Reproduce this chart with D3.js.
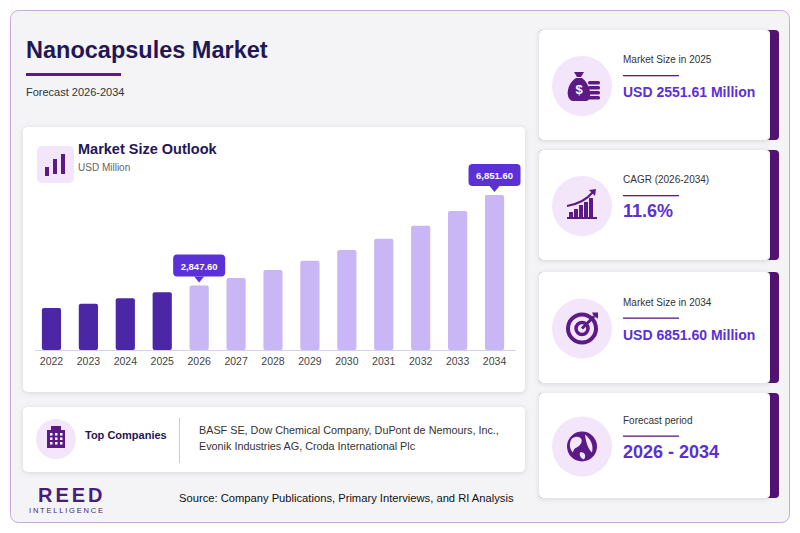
<!DOCTYPE html>
<html>
<head>
<meta charset="utf-8">
<script src="https://d3js.org/d3.v7.min.js"></script>
<style>
body{margin:0;background:#fff;font-family:"Liberation Sans",Arial,sans-serif;}
</style>
</head>
<body>
<script>
// chart data
var years = ["2022","2023","2024","2025","2026","2027","2028","2029","2030","2031","2032","2033","2034"];
var values = [1859, 2047, 2285, 2551.61, 2847.6, 3183, 3537, 3947, 4420, 4920, 5495, 6144, 6851.6];
var callouts = ["2026","2034"];
var cards = [
  {label:"Market Size in 2025", value:"USD 2551.61 Million", icon:"bag"},
  {label:"CAGR (2026-2034)", value:"11.6%", icon:"growth"},
  {label:"Market Size in 2034", value:"USD 6851.60 Million", icon:"target"},
  {label:"Forecast period", value:"2026 - 2034", icon:"globe"}
];

var W = 800, H = 533;
var svg = d3.select("body").append("svg").attr("width", W).attr("height", H);
var defs = svg.append("defs");
var f = defs.append("filter").attr("id","sh").attr("x","-10%").attr("y","-10%").attr("width","120%").attr("height","130%");
f.append("feDropShadow").attr("dx",0).attr("dy",1).attr("stdDeviation",2.5).attr("flood-color","#000").attr("flood-opacity",0.13);

svg.append("rect").attr("width",W).attr("height",H).attr("fill","#fff");
svg.append("rect").attr("x",10.5).attr("y",10.5).attr("width",779).attr("height",512).attr("rx",8)
  .attr("fill","#f4f4f6").attr("stroke","#c9a9dc");

// title
svg.append("text").attr("x",26).attr("y",58).text("Nanocapsules Market")
  .attr("font-size",23.5).attr("font-weight","bold").attr("fill","#231656");
svg.append("rect").attr("x",26).attr("y",73).attr("width",95).attr("height",3).attr("fill","#5b1a86");
svg.append("text").attr("x",26).attr("y",96).text("Forecast 2026-2034").attr("font-size",11).attr("fill","#333");

// chart card
svg.append("rect").attr("x",23).attr("y",127).attr("width",502).attr("height",265).attr("rx",5)
  .attr("fill","#fff").attr("filter","url(#sh)");
svg.append("rect").attr("x",37).attr("y",146).attr("width",37).attr("height",37).attr("rx",5).attr("fill","#f3e6fb");
[[45,167,3,9],[53,159,3,15],[61,154,3,20]].forEach(function(b){
  svg.append("rect").attr("x",b[0]).attr("y",b[1]).attr("width",b[2]+1).attr("height",b[3]).attr("fill","#5b1a86");
});
svg.append("text").attr("x",78).attr("y",154).text("Market Size Outlook").attr("font-size",14.5).attr("font-weight","bold").attr("fill","#231656");
svg.append("text").attr("x",78).attr("y",171).text("USD Million").attr("font-size",10).attr("fill","#666");

var x = d3.scaleBand().domain(years).range([33,513]).paddingInner(0.48).paddingOuter(0.24);
var y = d3.scaleLinear().domain([0, 6851.6]).range([350, 195]);

svg.append("line").attr("x1",35).attr("x2",516).attr("y1",350.5).attr("y2",350.5).attr("stroke","#d9cdf5");
svg.append("g").selectAll("rect").data(years).join("rect")
  .attr("x", function(d){return x(d);}).attr("width", x.bandwidth())
  .attr("y", function(d,i){return y(values[i]);})
  .attr("height", function(d,i){return 350 - y(values[i]);})
  .attr("rx",2)
  .attr("fill", function(d){return +d <= 2025 ? "#4b27a6" : "#c8b6f5";});

var ax = svg.append("g").attr("transform","translate(0,351)")
  .call(d3.axisBottom(x).tickSize(0).tickPadding(7));
ax.select(".domain").remove();
ax.selectAll("text").attr("font-size",10.5).attr("fill","#444").attr("font-family","Liberation Sans, Arial, sans-serif");

callouts.forEach(function(yr){
  var i = years.indexOf(yr), cx = x(yr) + x.bandwidth()/2, top = y(values[i]);
  var label = d3.format(",.2f")(values[i]);
  var bw = 52, bh = 22, by = top - 9 - bh;
  svg.append("rect").attr("x",cx-bw/2).attr("y",by).attr("width",bw).attr("height",bh).attr("rx",4).attr("fill","#5b30d6");
  svg.append("path").attr("d","M"+(cx-5)+","+(by+bh)+"L"+cx+","+(by+bh+6)+"L"+(cx+5)+","+(by+bh)+"Z").attr("fill","#5b30d6");
  svg.append("text").attr("x",cx).attr("y",by+15).attr("text-anchor","middle").text(label)
    .attr("font-size",9.5).attr("font-weight","bold").attr("fill","#fff");
});

// top companies
svg.append("rect").attr("x",23).attr("y",407).attr("width",502).attr("height",65).attr("rx",5)
  .attr("fill","#fff").attr("filter","url(#sh)");
svg.append("circle").attr("cx",56).attr("cy",439).attr("r",20).attr("fill","#f3e6fb");
var bld = svg.append("g").attr("fill","#5b1a86");
bld.append("rect").attr("x",47).attr("y",430).attr("width",18).attr("height",18);
bld.append("rect").attr("x",51).attr("y",426).attr("width",10).attr("height",4);
for (var r=0;r<3;r++) for (var c=0;c<3;c++)
  svg.append("rect").attr("x",50+c*5).attr("y",433+r*4.5).attr("width",2.5).attr("height",2.5).attr("fill","#fff");
svg.append("text").attr("x",85).attr("y",439).text("Top Companies").attr("font-size",11).attr("font-weight","bold").attr("fill","#231656");
svg.append("line").attr("x1",179.5).attr("x2",179.5).attr("y1",418).attr("y2",463).attr("stroke","#ccc");
svg.append("text").attr("x",199).attr("y",434).text("BASF SE, Dow Chemical Company, DuPont de Nemours, Inc.,").attr("font-size",10.8).attr("fill","#333");
svg.append("text").attr("x",199).attr("y",450).text("Evonik Industries AG, Croda International Plc").attr("font-size",10.8).attr("fill","#333");

// logo + source
svg.append("text").attr("x",38).attr("y",502).text("REED").attr("font-size",20).attr("font-weight","bold")
  .attr("letter-spacing",3).attr("fill","#4a1d78");
svg.append("text").attr("x",29).attr("y",513).text("INTELLIGENCE").attr("font-size",7.5)
  .attr("letter-spacing",1.8).attr("fill","#4a1d78");
svg.append("text").attr("x",179).attr("y",502).text("Source: Company Publications, Primary Interviews, and RI Analysis")
  .attr("font-size",11.2).attr("fill","#111");

// right cards
var cardY = [30, 150, 272, 393], cardH = [110, 110, 111, 105];
cards.forEach(function(cd, i){
  var g = svg.append("g").attr("transform","translate(539,"+cardY[i]+")");
  g.append("rect").attr("x",0).attr("y",0).attr("width",240).attr("height",cardH[i]).attr("rx",4).attr("fill","#521275");
  g.append("rect").attr("x",0).attr("y",0).attr("width",231).attr("height",cardH[i]).attr("rx",4).attr("fill","#fff").attr("filter","url(#sh)");
  var cy = cardH[i]/2 + 1;
  g.append("circle").attr("cx",43).attr("cy",cy).attr("r",30).attr("fill","#f3e6fb");
  var ic = g.append("g").attr("transform","translate(43,"+cy+")").attr("fill","#5b1a86");
  if (cd.icon === "bag") {
    ic.append("path").attr("d","M-8,-14 L2,-14 L-1,-9 L-5,-9Z");
    ic.append("path").attr("d","M-6,-8 C-16,-2 -17,14 -9,15 L5,15 C11,12 8,-2 0,-8Z");
    ic.append("text").attr("x",-3).attr("y",8).attr("text-anchor","middle").attr("font-size",13).attr("font-weight","bold").attr("fill","#fff").text("$");
    for (var k=0;k<4;k++) ic.append("rect").attr("x",6).attr("y",-5+k*5).attr("width",12).attr("height",3.5).attr("rx",1.5);
  } else if (cd.icon === "growth") {
    [[-13,6],[-8,3],[-3,-1],[2,-4],[7,-8]].forEach(function(b){
      ic.append("rect").attr("x",b[0]).attr("y",b[1]).attr("width",4).attr("height",12-b[1]);
    });
    ic.append("rect").attr("x",-15).attr("y",11).attr("width",30).attr("height",2);
    ic.append("path").attr("d","M-15,0 Q2,-3 11,-14").attr("fill","none").attr("stroke","#5b1a86").attr("stroke-width",2);
    ic.append("path").attr("d","M7,-16 L14,-17 L13,-10Z");
  } else if (cd.icon === "target") {
    ic.append("circle").attr("r",14).attr("fill","none").attr("stroke","#5b1a86").attr("stroke-width",4);
    ic.append("circle").attr("r",6).attr("fill","none").attr("stroke","#5b1a86").attr("stroke-width",3.5);
    ic.append("path").attr("d","M0,0 L12,-12").attr("stroke","#5b1a86").attr("stroke-width",3);
    ic.append("path").attr("d","M10,-16 L16,-16 L16,-10 L12,-12Z");
  } else {
    ic.append("circle").attr("r",15);
    ic.append("path").attr("d","M-10,-8 C-4,-12 2,-8 -1,-3 C-4,2 -8,0 -9,6 C-13,2 -13,-4 -10,-8Z M3,-12 C8,-8 12,-2 10,6 C6,2 4,-4 3,-12Z M-2,6 C2,5 5,9 2,13 C-1,12 -3,9 -2,6Z").attr("fill","#f3e6fb");
  }
  var ty = cy - 26;
  g.append("text").attr("x",84).attr("y",ty+3).text(cd.label).attr("font-size",10).attr("fill","#333");
  g.append("rect").attr("x",84).attr("y",ty+15).attr("width",56).attr("height",1.3).attr("fill","#5b1a86");
  g.append("text").attr("x",84).attr("y",ty+37).text(cd.value)
    .attr("font-size", cd.value.length > 12 ? 14 : 18).attr("font-weight","bold").attr("fill","#5b30d6");
});
</script>
</body>
</html>
